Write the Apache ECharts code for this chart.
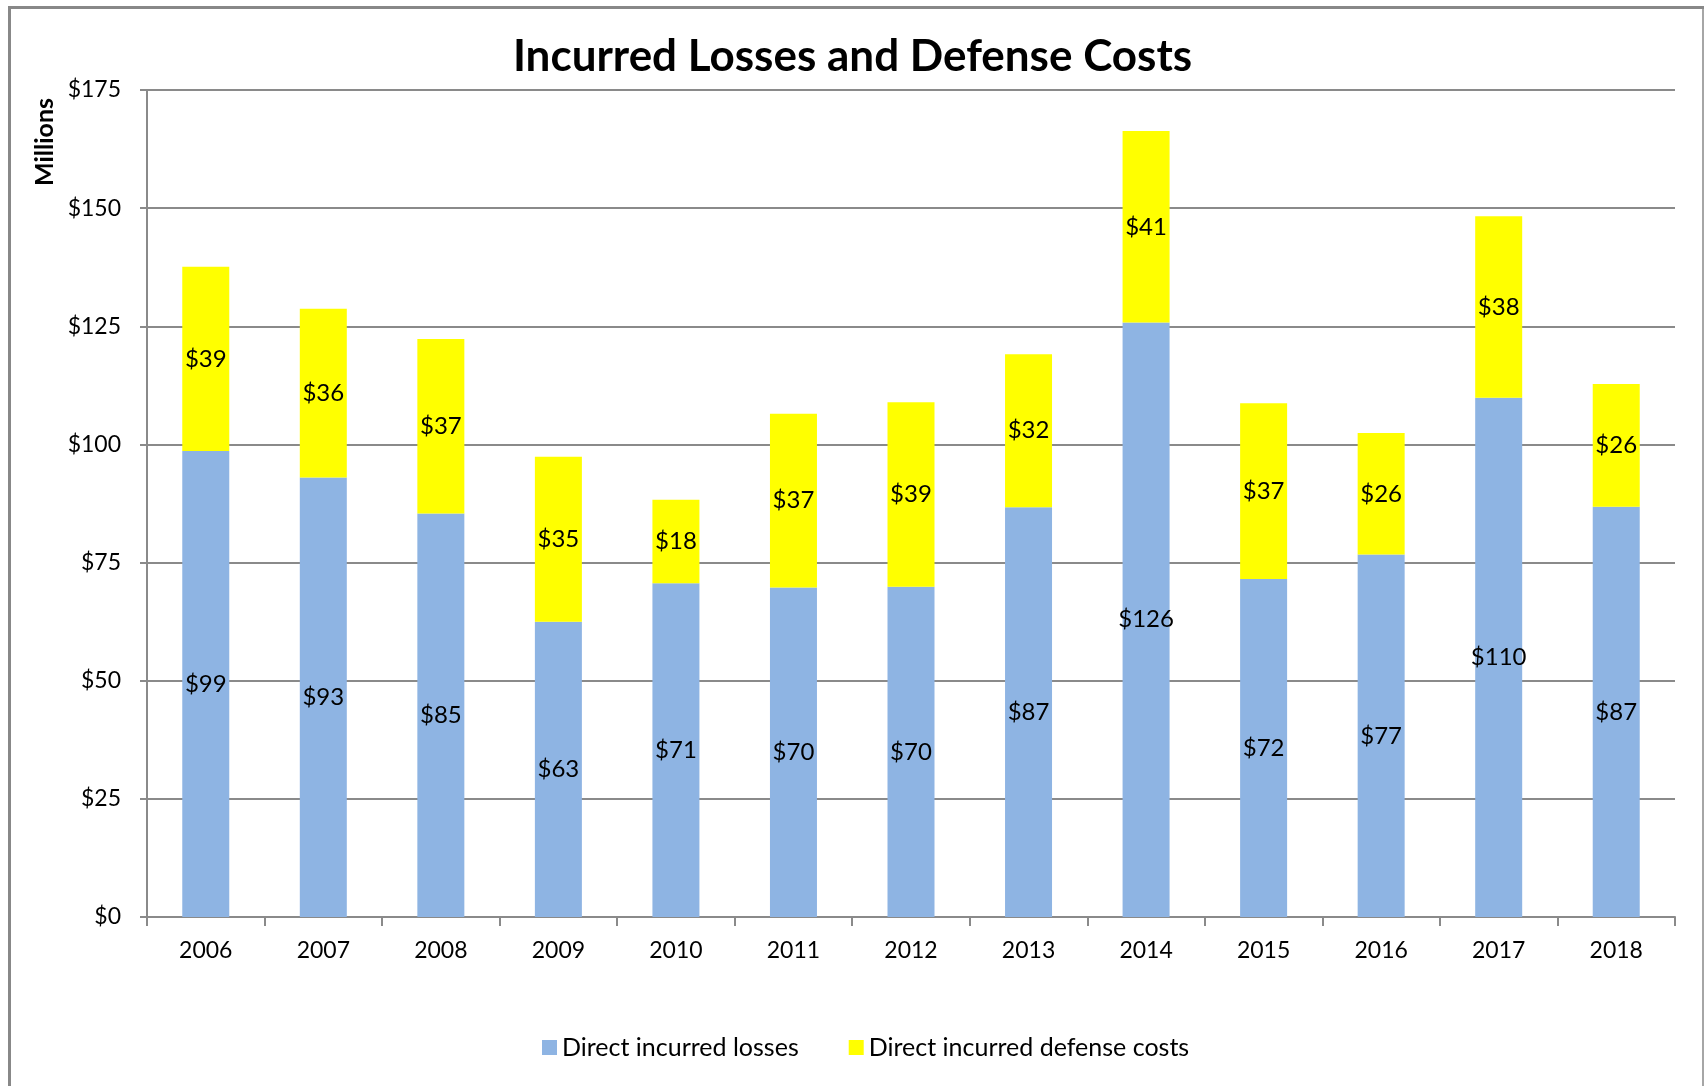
<!DOCTYPE html>
<html>
<head>
<meta charset="utf-8">
<script src="https://cdn.jsdelivr.net/npm/echarts@6/dist/echarts.min.js"></script>
<style>
	html, body { margin: 0; padding: 0; background: #fff; }
	#chart { width: 1705px; height: 1086px; }
</style>
</head>
<body>
<div id="chart"></div>
<script>
	// years on the x axis
	let years = ['2006', '2007', '2008', '2009', '2010', '2011', '2012', '2013', '2014', '2015', '2016', '2017', '2018'];
	// millions of dollars
	let losses = [98.6, 93.0, 85.4, 62.5, 70.6, 69.7, 69.9, 86.7, 125.8, 71.5, 76.7, 109.9, 86.8];
	let defense = [39.0, 35.7, 36.9, 34.9, 17.7, 36.8, 39.0, 32.4, 40.5, 37.2, 25.7, 38.4, 26.0];
	let series_names = ['Direct incurred losses', 'Direct incurred defense costs'];
	let series_colors = ['#8EB4E3', '#FFFF00'];

	let font = 'Lato, "Open Sans", sans-serif';
	let gray = '#8a8a8a';

	let chart = echarts.init(document.getElementById('chart'));

	let label_style = {
		show: true,
		position: 'inside',
		color: '#000',
		fontFamily: font,
		fontSize: 24,
		formatter: function(p){ return '$' + Math.round(p.value); }
	};

	let options = {
		animation: false,
		backgroundColor: '#fff',
		title: {
			text: 'Incurred Losses and Defense Costs',
			left: 'center',
			top: 30,
			textStyle: { fontFamily: font, fontWeight: 'bold', fontSize: 44, color: '#000' }
		},
		legend: {
			top: 1030,
			left: 537,
			icon: 'rect',
			itemWidth: 15,
			itemHeight: 15,
			itemGap: 50,
			textStyle: { fontFamily: font, fontSize: 25, color: '#000' },
			data: series_names
		},
		grid: { left: 147, right: 30, top: 90, bottom: 169 },
		xAxis: {
			type: 'category',
			data: years,
			axisLine: { lineStyle: { color: gray, width: 2 } },
			axisTick: { show: true, length: 9, lineStyle: { color: gray, width: 2 } },
			axisLabel: { color: '#000', fontFamily: font, fontSize: 23, margin: 22 }
		},
		yAxis: {
			type: 'value',
			min: 0,
			max: 175,
			interval: 25,
			axisLine: { show: true, lineStyle: { color: gray, width: 2 } },
			axisTick: { show: true, length: 7, lineStyle: { color: gray, width: 2 } },
			splitLine: { lineStyle: { color: gray, width: 2 } },
			axisLabel: {
				color: '#000', fontFamily: font, fontSize: 23, margin: 26,
				formatter: function(v){ return '$' + v; }
			}
		},
		graphic: [
			{ type: 'line', shape: { x1: 9.5, y1: 7.5, x2: 9.5, y2: 1090 }, style: { stroke: '#888', lineWidth: 3 } },
			{ type: 'line', shape: { x1: 8, y1: 7.5, x2: 1704, y2: 7.5 }, style: { stroke: '#888', lineWidth: 3 } },
			{ type: 'line', shape: { x1: 1703, y1: 7.5, x2: 1703, y2: 1090 }, style: { stroke: '#888', lineWidth: 1.5 } },
			{
				type: 'text', x: 45, y: 142, rotation: Math.PI / 2,
				style: {
					text: 'Millions', fill: '#000', font: 'bold 25px ' + font,
					textAlign: 'center', textVerticalAlign: 'middle'
				}
			}
		],
		series: [
			{
				name: series_names[0], type: 'bar', stack: 'total', barWidth: 47,
				itemStyle: { color: series_colors[0] },
				label: label_style,
				data: losses
			},
			{
				name: series_names[1], type: 'bar', stack: 'total', barWidth: 47,
				itemStyle: { color: series_colors[1] },
				label: label_style,
				data: defense
			}
		]
	};
	chart.setOption(options);
</script>
</body>
</html>
